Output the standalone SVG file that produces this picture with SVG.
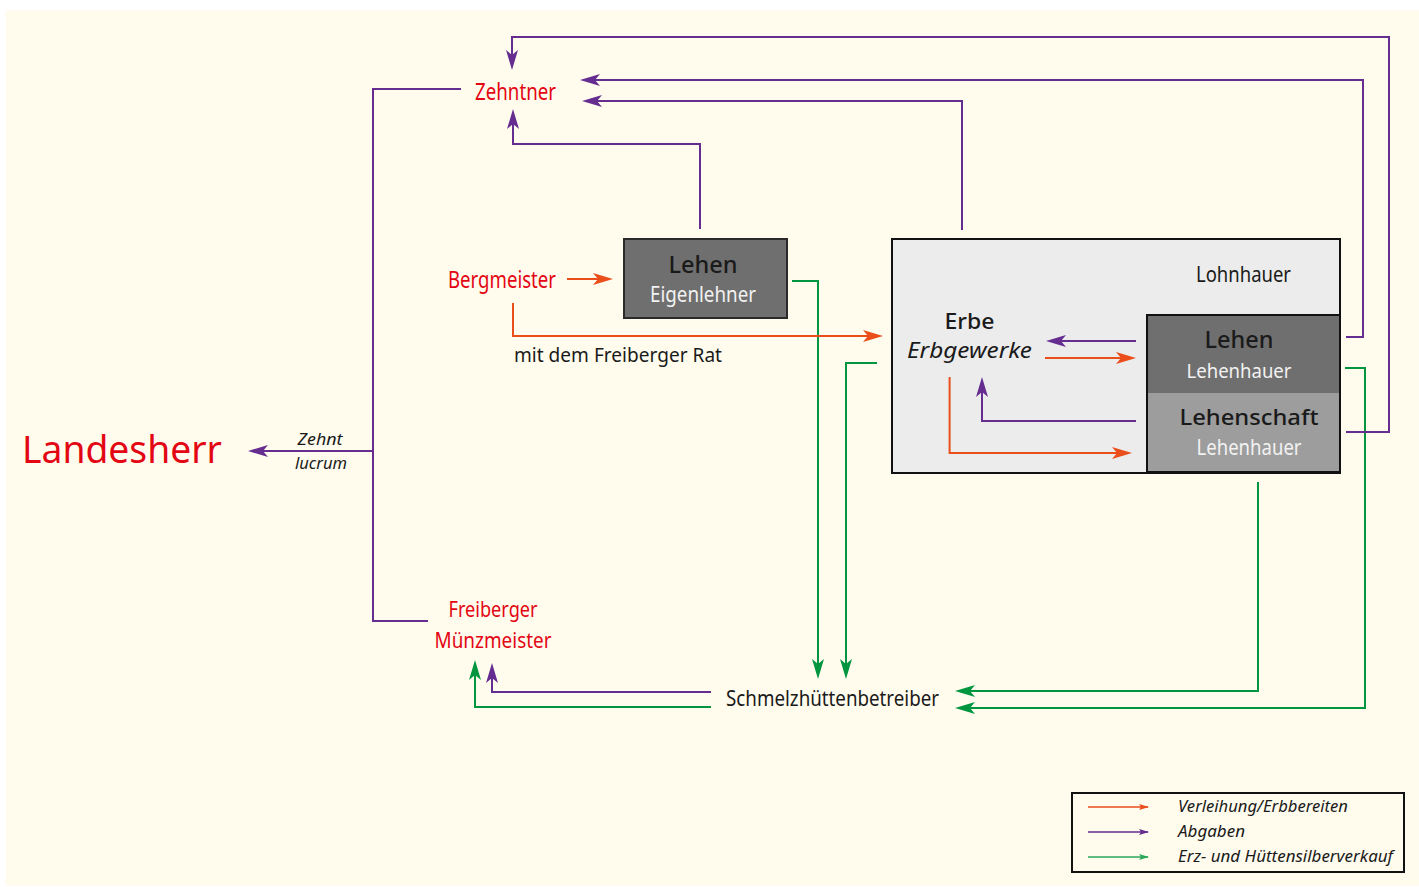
<svg xmlns="http://www.w3.org/2000/svg" width="1419" height="887" viewBox="0 0 1419 887">
<style>
text{font-family:"Noto Sans","Open Sans","Liberation Sans",sans-serif}
.red{fill:#e30613}
.blk{fill:#1a1a1a}
.wht{fill:#f2f2f2}
.it{font-style:italic}
.md{font-weight:500}
.c{text-anchor:middle}
.p{fill:none;stroke:#662d91;stroke-width:2}
.g{fill:none;stroke:#009640;stroke-width:2}
.o{fill:none;stroke:#e94e1b;stroke-width:2}
.pa{marker-end:url(#mP)}
.ga{marker-end:url(#mG)}
.oa{marker-end:url(#mO)}
</style>
<defs>
<marker id="mP" markerUnits="userSpaceOnUse" viewBox="-16 -7 22 14" markerWidth="22" markerHeight="14" refX="0" refY="0" orient="auto"><path d="M5,0 L-15,-6 L-10,0 L-15,6 Z" fill="#662d91"/></marker>
<marker id="mG" markerUnits="userSpaceOnUse" viewBox="-16 -7 22 14" markerWidth="22" markerHeight="14" refX="0" refY="0" orient="auto"><path d="M5,0 L-15,-6 L-10,0 L-15,6 Z" fill="#009640"/></marker>
<marker id="mO" markerUnits="userSpaceOnUse" viewBox="-16 -7 22 14" markerWidth="22" markerHeight="14" refX="0" refY="0" orient="auto"><path d="M5,0 L-15,-6 L-10,0 L-15,6 Z" fill="#e94e1b"/></marker>
<marker id="sP" markerUnits="userSpaceOnUse" viewBox="-10 -4 12 8" markerWidth="12" markerHeight="8" refX="0" refY="0" orient="auto"><path d="M1,0 L-9,-3 L-7,0 L-9,3 Z" fill="#662d91"/></marker>
<marker id="sG" markerUnits="userSpaceOnUse" viewBox="-10 -4 12 8" markerWidth="12" markerHeight="8" refX="0" refY="0" orient="auto"><path d="M1,0 L-9,-3 L-7,0 L-9,3 Z" fill="#2aa85a"/></marker>
<marker id="sO" markerUnits="userSpaceOnUse" viewBox="-10 -4 12 8" markerWidth="12" markerHeight="8" refX="0" refY="0" orient="auto"><path d="M1,0 L-9,-3 L-7,0 L-9,3 Z" fill="#e94e1b"/></marker>
</defs>
<rect x="0" y="0" width="1419" height="887" fill="#ffffff"/>
<rect x="6" y="10" width="1413" height="876" fill="#fffcee"/>

<g id="erbe-box">
<rect x="892" y="239" width="448" height="234" fill="#ececec" stroke="#111" stroke-width="2"/>
<text class="blk c" x="1243.5" y="282" font-size="21" textLength="95" lengthAdjust="spacingAndGlyphs">Lohnhauer</text>
<text class="blk c md" x="969.5" y="329" font-size="22" textLength="50" lengthAdjust="spacingAndGlyphs">Erbe</text>
<text class="blk c it" x="969.5" y="358" font-size="21" textLength="125" lengthAdjust="spacingAndGlyphs">Erbgewerke</text>
</g>
<g id="lehen-lehenhauer">
<rect x="1147" y="315" width="193" height="78" fill="#6f6f6f"/>
<text class="blk c md" x="1239" y="348" font-size="23" textLength="69" lengthAdjust="spacingAndGlyphs">Lehen</text>
<text class="wht c" x="1239" y="378" font-size="20" textLength="105" lengthAdjust="spacingAndGlyphs">Lehenhauer</text>
</g>
<g id="lehenschaft">
<rect x="1147" y="393" width="193" height="79" fill="#9d9d9d"/>
<text class="blk c md" x="1249" y="425" font-size="22" textLength="139" lengthAdjust="spacingAndGlyphs">Lehenschaft</text>
<text class="wht c" x="1249" y="455" font-size="21" textLength="105" lengthAdjust="spacingAndGlyphs">Lehenhauer</text>
<rect x="1147" y="315" width="193" height="157" fill="none" stroke="#111" stroke-width="2"/>
</g>
<g id="lehen-eigenlehner">
<rect x="624" y="239" width="163" height="79" fill="#6f6f6f" stroke="#2a2a2a" stroke-width="2"/>
<text class="blk c md" x="703" y="273" font-size="23" textLength="69" lengthAdjust="spacingAndGlyphs">Lehen</text>
<text class="wht c" x="703" y="302" font-size="21" textLength="106" lengthAdjust="spacingAndGlyphs">Eigenlehner</text>
</g>
<g id="zehntner"><text class="red c" x="515.5" y="100" font-size="23" textLength="81" lengthAdjust="spacingAndGlyphs">Zehntner</text></g>
<g id="bergmeister"><text class="red" x="448" y="288" font-size="23" textLength="108" lengthAdjust="spacingAndGlyphs">Bergmeister</text></g>
<g id="rat-label"><text class="blk" x="514" y="362" font-size="20" textLength="208" lengthAdjust="spacingAndGlyphs">mit dem Freiberger Rat</text></g>
<g id="landesherr"><text class="red c" x="122" y="463" font-size="39" textLength="200" lengthAdjust="spacingAndGlyphs">Landesherr</text></g>
<g id="zehnt-label">
<text class="blk c it" x="320" y="445" font-size="16" textLength="45" lengthAdjust="spacingAndGlyphs">Zehnt</text>
<text class="blk c it" x="321" y="469" font-size="16" textLength="52" lengthAdjust="spacingAndGlyphs">lucrum</text>
</g>
<g id="muenzmeister">
<text class="red c" x="493" y="617" font-size="22" textLength="89" lengthAdjust="spacingAndGlyphs">Freiberger</text>
<text class="red c" x="493" y="648" font-size="22" textLength="117" lengthAdjust="spacingAndGlyphs">Münzmeister</text>
</g>
<g id="schmelz"><text class="blk c" x="832.5" y="706" font-size="22" textLength="213" lengthAdjust="spacingAndGlyphs">Schmelzhüttenbetreiber</text></g>

<g id="connectors">
<path class="g ga" d="M792,281 H818 V674"/>
<path class="g ga" d="M877,363 H846 V674"/>
<path class="g ga" d="M1258,482 V691 H960"/>
<path class="g ga" d="M1345,368 H1365 V708 H960"/>
<path class="g ga" d="M711,707 H475 V665"/>
<path class="p pa" d="M1346,432 H1389 V37 H512 V65"/>
<path class="p pa" d="M1346,337 H1363 V80 H585"/>
<path class="p pa" d="M962,230 V101 H587"/>
<path class="p pa" d="M700,229 V144 H513 V114"/>
<path class="p" d="M461,89 H373 V621 H428"/>
<path class="p pa" d="M373,451 H253"/>
<path class="p pa" d="M1136,341 H1051"/>
<path class="p pa" d="M1136,421 H982 V382"/>
<path class="p pa" d="M711,692 H492 V668"/>
<path class="o oa" d="M567,279 H608"/>
<path class="o oa" d="M513,303 V336 H878"/>
<path class="o oa" d="M1045,358 H1131"/>
<path class="o oa" d="M949.6,377 V453 H1127"/>
</g>

<g id="legend">
<rect x="1072" y="793" width="332" height="79" fill="none" stroke="#111" stroke-width="2"/>
<line x1="1088" y1="807" x2="1148" y2="807" stroke="#e94e1b" stroke-width="1.3" marker-end="url(#sO)"/>
<line x1="1088" y1="832" x2="1148" y2="832" stroke="#662d91" stroke-width="1.3" marker-end="url(#sP)"/>
<line x1="1088" y1="857" x2="1148" y2="857" stroke="#2aa85a" stroke-width="1.3" marker-end="url(#sG)"/>
<text class="blk it" x="1178" y="812" font-size="16" textLength="170" lengthAdjust="spacingAndGlyphs">Verleihung/Erbbereiten</text>
<text class="blk it" x="1178" y="837" font-size="16" textLength="67" lengthAdjust="spacingAndGlyphs">Abgaben</text>
<text class="blk it" x="1178" y="862" font-size="16" textLength="215" lengthAdjust="spacingAndGlyphs">Erz- und Hüttensilberverkauf</text>
</g>
</svg>
